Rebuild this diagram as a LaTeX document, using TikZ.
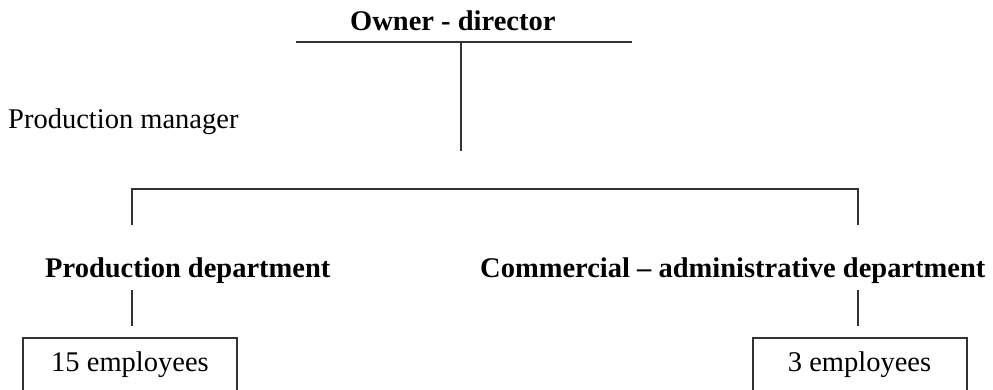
\documentclass[tikz,border=0pt]{standalone}
\usepackage{fontspec}
\setmainfont{Liberation Serif}
\begin{document}
\begin{tikzpicture}[x=1pt,y=-1pt,
  label/.style={inner sep=0pt,anchor=base west,font=\fontsize{28.5}{34}\selectfont},
  head/.style={label,font=\fontsize{28.5}{34}\selectfont\bfseries},
  staffbox/.style={draw=black!80,line width=2pt,minimum width=214pt,minimum height=54pt,
    inner sep=0pt,anchor=north,font=\fontsize{28.5}{34}\selectfont},
  link/.style={draw=black!80,line width=2pt}]
  \clip (0,0) rectangle (993,389);
  \fill[white] (0,0) rectangle (993,389);

  % titles
  \node[head]  (owner)    at (350,30)  {Owner - director};
  \node[label] (pm)       at (8,128)   {Production manager};
  \node[head]  (proddept) at (45,277)  {Production department};
  \node[head]  (commdept) at (480,277) {Commercial -- administrative department};

  % staff boxes
  \node[staffbox] (emp15) at (130,337) {15 employees};
  \node[staffbox] (emp3)  at (859.5,337) {3 employees};

  % line under the owner and the stem below it
  \coordinate (ownL) at (296,42);
  \coordinate (ownR) at (632,42);
  \coordinate (ownM) at (461,42);
  \coordinate (stemEnd) at (461,151);
  \draw[link] (ownL) -- (ownR);
  \draw[link] (ownM) -- (stemEnd);

  % branch to the two departments
  \coordinate (brL) at (132,225);
  \coordinate (brR) at (858,225);
  \draw[link] (brL) |- (858,189) -- (brR);

  % ticks from departments down to staff
  \coordinate (tickLtop) at (132,290);
  \coordinate (tickLbot) at (132,326);
  \coordinate (tickRtop) at (858,290);
  \coordinate (tickRbot) at (858,326);
  \draw[link] (tickLtop) -- (tickLbot);
  \draw[link] (tickRtop) -- (tickRbot);
\end{tikzpicture}
\end{document}
